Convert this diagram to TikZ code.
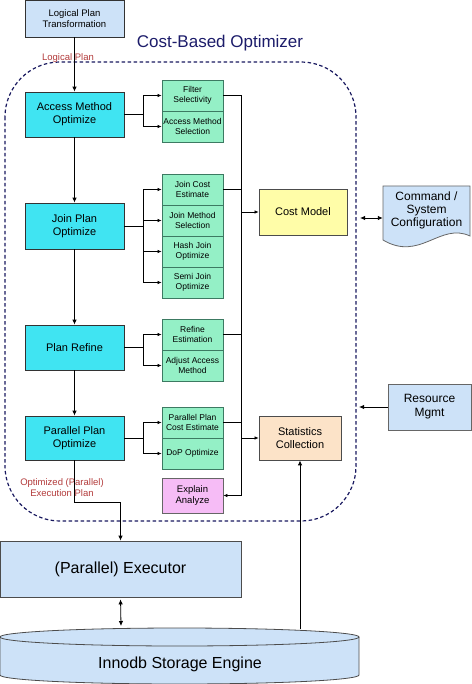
\documentclass[tikz,border=0pt]{standalone}
\usepackage{fontspec}
\setmainfont{Liberation Sans}
\usetikzlibrary{arrows.meta}

\definecolor{cyanbox}{HTML}{40E4F2}
\definecolor{subgreen}{HTML}{94F0C6}
\definecolor{subline}{HTML}{3C7A62}
\definecolor{pinkbox}{HTML}{F6BCF6}
\definecolor{yellowbox}{HTML}{FFFDA8}
\definecolor{peachbox}{HTML}{FCE3C8}
\definecolor{paleblue}{HTML}{CDE2F8}
\definecolor{titlenavy}{HTML}{1C1C6A}
\definecolor{notered}{HTML}{B23A3A}

\begin{document}
\begin{tikzpicture}[
  x=1pt, y=-1pt,
  main/.style={draw=black!80, fill=cyanbox, align=center, minimum width=99pt, minimum height=45pt, line width=0.8pt, font=\fontsize{11}{13}\selectfont},
  sub/.style={draw=subline, fill=subgreen, align=center, minimum width=61pt, minimum height=31pt, inner sep=1pt, line width=0.8pt, font=\fontsize{8.5}{10}\selectfont},
  side/.style={draw=black!70, align=center, line width=0.8pt, font=\fontsize{11}{13}\selectfont},
  note/.style={text=notered, align=center, font=\fontsize{9.5}{11}\selectfont},
  feed/.style={->, line width=0.6pt, >={Latex[length=4pt,width=3.5pt]}},
  >={Latex[length=5pt,width=4.5pt]}
]
  \useasboundingbox (0,0) rectangle (471,684);

  \draw[titlenavy!90!black, line width=1.2pt, dash pattern=on 3.5pt off 2.5pt, rounded corners=55pt] (5,62) rectangle (356,521);
  \node[text=titlenavy, font=\fontsize{17}{19}\selectfont] (title) at (220,43) {Cost-Based Optimizer};

  \node[main, fill=paleblue, minimum height=37pt, font=\fontsize{9.5}{11}\selectfont] (lpt) at (74.5,18.5) {Logical Plan\\Transformation};
  \node[main] (amo) at (74.5,114.5) {Access Method\\Optimize};
  \node[main, minimum height=46pt] (jpo) at (74.5,226) {Join Plan\\Optimize};
  \node[main] (pr) at (74.5,347.5) {Plan Refine};
  \node[main, minimum height=44pt] (ppo) at (74.5,438) {Parallel Plan\\Optimize};

  \node[sub] (fs) at (192.5,95.5) {Filter\\Selectivity};
  \node[sub] (ams) at (192.5,126.5) {Access Method\\Selection};
  \node[sub] (jce) at (192.5,189.5) {Join Cost\\Estimate};
  \node[sub] (jms) at (192.5,220.5) {Join Method\\Selection};
  \node[sub] (hjo) at (192.5,251.5) {Hash Join\\Optimize};
  \node[sub] (sjo) at (192.5,282.5) {Semi Join\\Optimize};
  \node[sub] (re) at (192.5,334.5) {Refine\\Estimation};
  \node[sub] (aam) at (192.5,365.5) {Adjust Access\\Method};
  \node[sub] (ppce) at (192.5,422.5) {Parallel Plan\\Cost Estimate};
  \node[sub] (dop) at (192.5,453.5) {DoP Optimize};
  \node[sub, draw=black!60, fill=pinkbox, minimum height=35pt, font=\fontsize{9.5}{11.5}\selectfont] (ea) at (192.5,495.5) {Explain\\Analyze};

  \node[side, fill=yellowbox, minimum width=88pt, minimum height=46pt] (cm) at (303,212) {Cost Model};
  \node[side, fill=peachbox, minimum width=82pt, minimum height=44pt] (sc) at (300,438) {Statistics\\Collection};
  \node[side, draw=black!60, fill=paleblue, minimum width=83pt, minimum height=46pt, font=\fontsize{12}{14}\selectfont] (rm) at (429.5,407) {Resource\\Mgmt};

  \draw[black!60, fill=paleblue, line width=0.8pt] (383,186) -- (470,186) -- (470,236) .. controls (440,222) and (420,262) .. (383,240) -- cycle;
  \node[align=center, minimum width=87pt, inner sep=0pt, font=\fontsize{12}{13}\selectfont] (cfg) at (426.5,210) {Command /\\System\\Configuration};

  \node[side, fill=paleblue, minimum width=241pt, minimum height=56pt, font=\fontsize{16}{18}\selectfont] (exec) at (120.5,569) {(Parallel) Executor};

  \fill[paleblue] (0,637) -- (0,675) arc[start angle=180, end angle=0, x radius=179.5, y radius=9] -- (359,637) arc[start angle=0, end angle=-180, x radius=179.5, y radius=9] -- cycle;
  \draw[black!70, line width=0.8pt] (0,637) -- (0,675) arc[start angle=180, end angle=0, x radius=179.5, y radius=9] -- (359,637);
  \draw[black!70, line width=0.8pt] (179.5,637) ellipse[x radius=179.5, y radius=9];
  \node[font=\fontsize{16}{18}\selectfont] (innodb) at (180,664) {Innodb Storage Engine};
  \coordinate (dbexec) at (121,626);
  \coordinate (dbstat) at (300,629);
  \coordinate (cfgport) at (360,218);
  \coordinate (rmport) at (359,407);
  \coordinate (bus) at (241,0);

  \draw[->, line width=0.9pt] (lpt) -- (amo);
  \node[note] (lplabel) at (68,58) {Logical Plan};
  \draw[->, line width=0.9pt] (amo) -- (jpo);
  \draw[->, line width=0.9pt] (jpo) -- (pr);
  \draw[->, line width=0.9pt] (pr) -- (ppo);

  \foreach \src/\dsts in {amo/{fs,ams}, jpo/{jce,jms,hjo,sjo}, pr/{re,aam}, ppo/{ppce,dop}}
    \foreach \dst in \dsts
      \draw[feed] (\src.east) -- ++(19,0) |- (\dst.west);

  \draw[feed] (fs.east) -| (bus |- ea) -- (ea.east);
  \foreach \src in {jce,re,ppce}
    \draw[line width=0.6pt] (\src.east) -- (\src.east -| bus);
  \draw[feed] (bus |- cm) -- (cm.west);
  \draw[feed] (bus |- sc) -- (sc.west);

  \draw[<->, line width=0.9pt] (cfgport) -- (cfgport -| cfg.west);
  \draw[->, line width=0.9pt] (rm.west) -- (rmport);

  \node[note] (oeplabel) at (62,487.5) {Optimized (Parallel)\\Execution Plan};
  \draw[->, line width=0.8pt] (ppo.south) -- (ppo.south |- 0,502) -| (exec.north);
  \draw[<->, line width=0.8pt, shorten <=2pt] (exec.south) -- (dbexec);
  \draw[->, line width=0.9pt] (dbstat) -- (sc.south);
\end{tikzpicture}
\end{document}
